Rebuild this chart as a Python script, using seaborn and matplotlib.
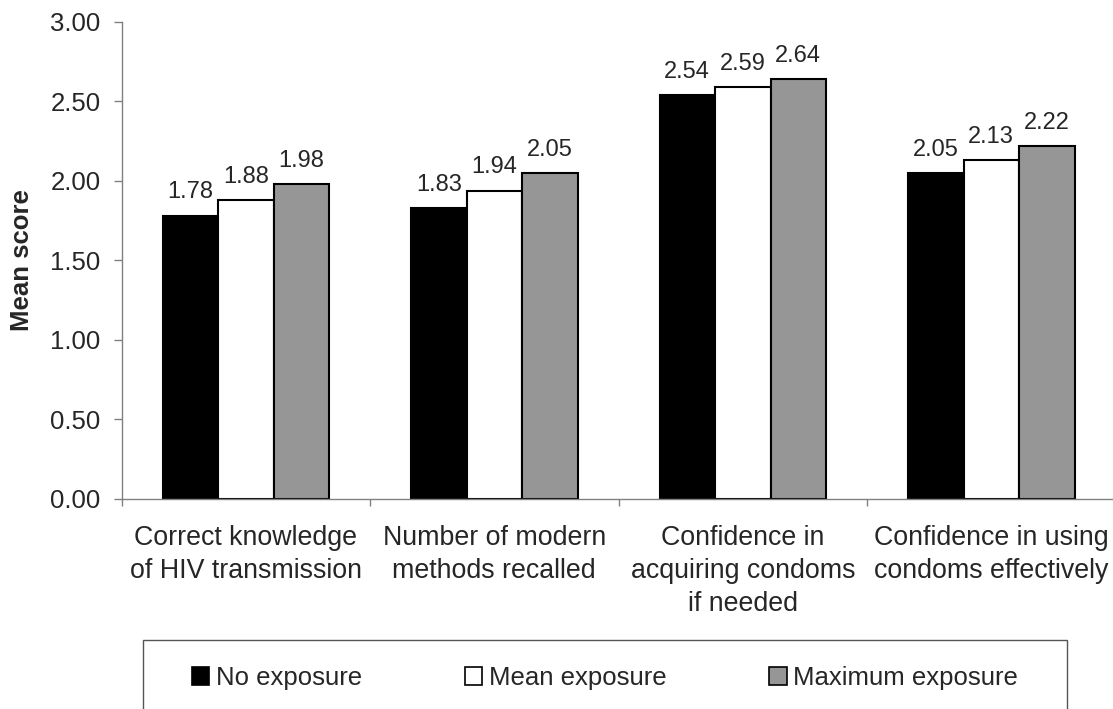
import numpy as np
import pandas as pd
import matplotlib
matplotlib.use('Agg')
import matplotlib.pyplot as plt
from matplotlib.patches import Rectangle
from matplotlib.ticker import FixedLocator, FormatStrFormatter
import seaborn as sns

# data
categories = ['Correct knowledge\nof HIV transmission',
              'Number of modern\nmethods recalled',
              'Confidence in\nacquiring condoms\nif needed',
              'Confidence in using\ncondoms effectively']
groups = ['No exposure', 'Mean exposure', 'Maximum exposure']
no_exposure = [1.78, 1.83, 2.54, 2.05]
mean_exposure = [1.88, 1.94, 2.59, 2.13]
max_exposure = [1.98, 2.05, 2.64, 2.22]
colors = ['black', 'white', '#969696']

df = pd.DataFrame({
    'category': categories * 3,
    'group': np.repeat(groups, len(categories)),
    'score': no_exposure + mean_exposure + max_exposure,
})

sns.set_style('ticks')
plt.rcParams['font.family'] = ['Liberation Sans', 'DejaVu Sans']

fig = plt.figure(figsize=(11.13, 7.09), dpi=100)
ax = fig.add_axes([0.1092, 0.2962, 0.8931, 0.6728])

sns.barplot(data=df, x='category', y='score', hue='group', order=categories,
            hue_order=groups, palette=colors, edgecolor='black', linewidth=1.5,
            width=0.67, saturation=1, errorbar=None, ax=ax)

# value labels above the bars
for cont in ax.containers:
    ax.bar_label(cont, fmt='%.2f', padding=9, fontsize=17)

ax.set_xlim(-0.5, 3.5)
ax.set_ylim(0, 3)
ax.set_yticks(np.arange(0, 3.01, 0.5))
ax.yaxis.set_major_formatter(FormatStrFormatter('%.2f'))
ax.set_xlabel('')
ax.set_ylabel('Mean score', fontsize=18.5, fontweight='bold')
ax.yaxis.set_label_coords(-0.088, 0.5)

# category labels centred, tick marks between categories
ax.xaxis.set_minor_locator(FixedLocator([-0.5, 0.5, 1.5, 2.5, 3.5]))
ax.tick_params(axis='x', which='major', length=0, pad=18.5, labelsize=19.3)
ax.tick_params(axis='x', which='minor', length=5, width=1, color='#808080', direction='out')
ax.tick_params(axis='y', length=6, width=1, color='#808080', pad=9, labelsize=18.5)
for lbl in ax.get_xticklabels():
    lbl.set_linespacing(1.35)

sns.despine(ax=ax)
for side in ['left', 'bottom']:
    ax.spines[side].set_color('#808080')
    ax.spines[side].set_linewidth(1)

# legend at the bottom with a square box
handles, labels = ax.get_legend_handles_labels()
ax.legend_.remove()
for h in handles:
    h.set_edgecolor('black')
    h.set_linewidth(1.2)
fig.legend(handles, labels, loc='center left',
           bbox_to_anchor=(192 / 1113, 1 - 678 / 709, (1018 - 192) / 1113, 0),
           mode='expand', ncol=3, frameon=False, fontsize=18.5,
           handlelength=0.68, handleheight=0.68, handletextpad=0.25,
           borderpad=0, borderaxespad=0)
fig.add_artist(Rectangle((143 / 1113, -0.05), (1067 - 143) / 1113, 1 - 640 / 709 + 0.05,
                         transform=fig.transFigure, fill=False,
                         edgecolor='#555555', linewidth=1))

fig.savefig('out.png', dpi=100)
